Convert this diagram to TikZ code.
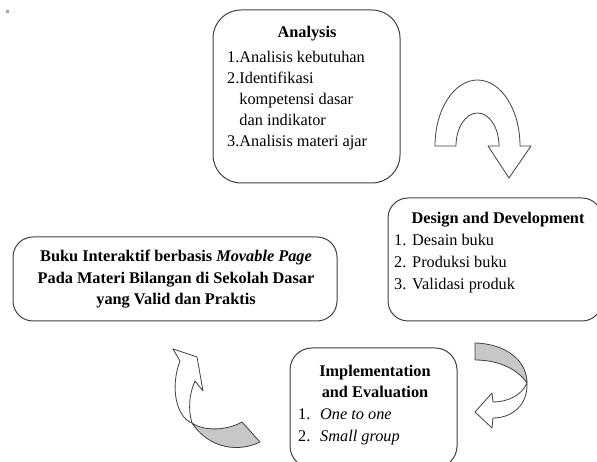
\documentclass[tikz,border=0pt]{standalone}
\usepackage{fontspec}
\setmainfont{Liberation Serif}

\begin{document}
\begin{tikzpicture}[x=1pt, y=1pt]

% Define styles
\tikzstyle{panel} = [rectangle, draw=black!75, line width=1pt, rounded corners=20pt, inner sep=0pt]
\tikzstyle{txt} = [inner sep=0pt, font=\fontsize{16.3}{21}\selectfont]
\tikzstyle{heading} = [inner sep=0pt, font=\fontsize{16.3}{21}\selectfont\bfseries]
\tikzstyle{ribbon} = [draw=black!75, line width=0.8pt, line join=round]
\tikzstyle{frontside} = [ribbon, fill=white]
\tikzstyle{backside} = [ribbon, fill=black!22]

\useasboundingbox (0,0) rectangle (597,462);
\clip (0,0) rectangle (597,462);
\fill [black!35] (6,449) rectangle (8.5,451.5);

% Boxes
\node [panel, rounded corners=28pt, minimum width=187pt, minimum height=173pt] (analysis) at (306.5,365.5) {};
\node [panel, minimum width=214pt, minimum height=123pt] (design) at (495,202.5) {};
\node [panel, minimum width=324pt, minimum height=84pt] (product) at (175,183) {};
\node [panel, rounded corners=22pt, minimum width=167pt, minimum height=120pt] (implement) at (373.5,54) {};

% Texts
\node [heading, anchor=base] (analysis_title) at (307,424) {Analysis};
\node [txt, anchor=base west] (analysis_list) at (227,399) {\begin{tabular}[t]{@{}l@{}}
1.Analisis kebutuhan\\
2.Identifikasi\\
\phantom{2.}kompetensi dasar\\
\phantom{2.}dan indikator\\
3.Analisis materi ajar
\end{tabular}};

\node [heading, anchor=base] (design_title) at (498,238) {Design and Development};
\node [txt, font=\fontsize{16.3}{22}\selectfont, anchor=base west] (design_list) at (394,216) {\begin{tabular}[t]{@{}l@{}}
\makebox[18pt][l]{1.}Desain buku\\
\makebox[18pt][l]{2.}Produksi buku\\
\makebox[18pt][l]{3.}Validasi produk
\end{tabular}};

\node [heading, font=\fontsize{16.3}{21.5}\selectfont\bfseries, anchor=base] (product_text) at (176,200) {\begin{tabular}[t]{@{}c@{}}
Buku Interaktif berbasis \textit{Movable Page}\\
Pada Materi Bilangan di Sekolah Dasar\\
yang Valid dan Praktis
\end{tabular}};

\node [heading, anchor=base] (implement_title) at (375,85) {\begin{tabular}[t]{@{}c@{}}
Implementation\\
and Evaluation
\end{tabular}};
\node [txt, font=\fontsize{16.3}{22}\selectfont, anchor=base west] (implement_list) at (298,42) {\begin{tabular}[t]{@{}l@{}}
\makebox[22pt][l]{1.}\textit{One to one}\\
\makebox[22pt][l]{2.}\textit{Small group}
\end{tabular}};

% Arrows
\draw [frontside] (435,316) arc [start angle=180, end angle=0, x radius=42.5pt, y radius=66pt]
  -- (531,316) -- (509,284) -- (488,316) -- (499,316)
  arc [start angle=0, end angle=180, x radius=21.5pt, y radius=33pt] -- cycle;

\draw [backside] (475,119) .. controls (508,118) and (527,100) .. (527,79)
  .. controls (518,92) and (500,102) .. (475,102) -- cycle;
\draw [frontside] (527,79) .. controls (528,57) and (512,44) .. (493,44)
  -- (492,34) -- (475,50) -- (492,69) -- (493,60)
  .. controls (508,60) and (522,67) .. (527,79) -- cycle;

\draw [frontside] (180,101) -- (173,113) -- (197,105) -- (203,71) -- (195,81)
  .. controls (189,68) and (188,52) .. (192,39)
  .. controls (176,45) and (170,75) .. (180,101) -- cycle;
\draw [backside] (192,39) .. controls (205,30) and (228,32) .. (242,40)
  -- (260,20) .. controls (240,10) and (210,12) .. (192,39) -- cycle;

\end{tikzpicture}
\end{document}
